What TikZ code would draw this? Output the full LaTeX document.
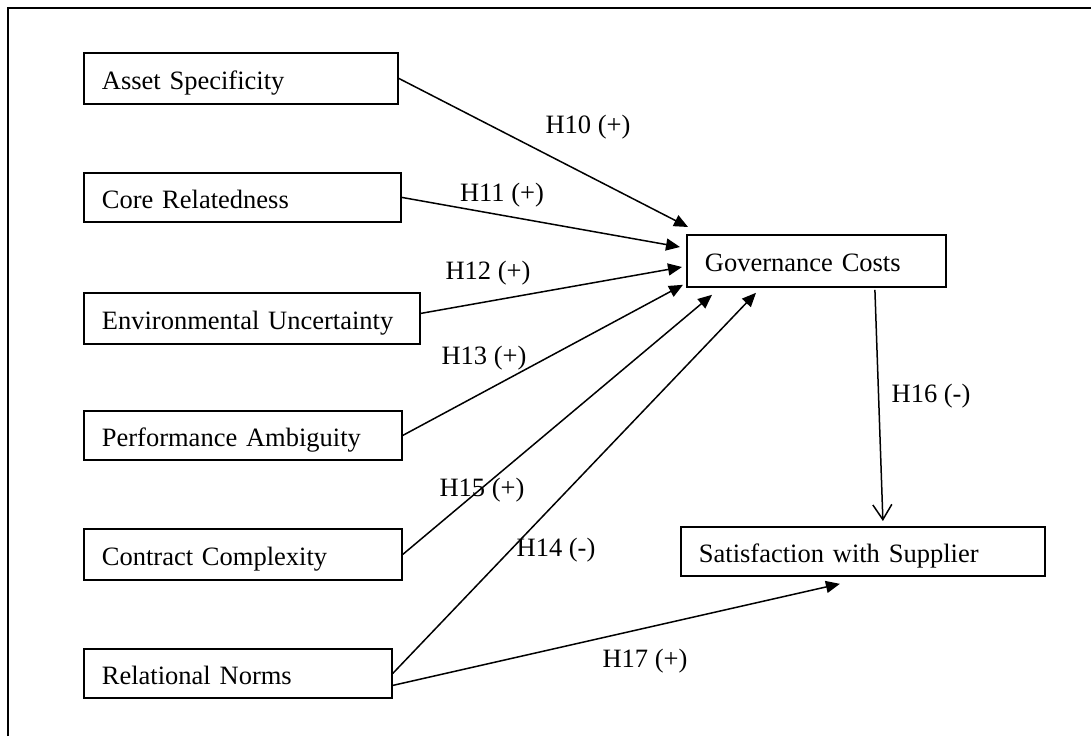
\documentclass[tikz,border=0pt]{standalone}
\usepackage{fontspec}
\setmainfont{Liberation Serif}
\usetikzlibrary{arrows.meta}
\begin{document}
\begin{tikzpicture}[x=1pt,y=-1pt,
  every node/.style={font=\fontsize{26.5}{30}\selectfont},
  varbox/.style={draw, line width=1.8pt, anchor=north west, inner xsep=18pt, inner ysep=0pt, align=left, text height=24pt, text depth=2pt},
  lbl/.style={inner sep=0pt},
  hyp/.style={line width=1.5pt, -{Triangle[length=14pt,width=12pt]}},
  hypopen/.style={line width=1.5pt, -{Straight Barb[length=15pt,width=19pt,line width=1.5pt]}}]
\useasboundingbox (0,0) rectangle (1091,736);
\draw[line width=1.8pt] (8,736) -- (8,8) -- (1091,8);

\node[varbox, minimum width=314pt, minimum height=51pt, text width=278pt] (asset) at (83,52) {Asset Specificity};
\node[varbox, minimum width=317pt, minimum height=49pt, text width=281pt] (core) at (83,172) {Core Relatedness};
\node[varbox, minimum width=336pt, minimum height=51pt, text width=300pt] (env) at (83,292) {Environmental Uncertainty};
\node[varbox, minimum width=318pt, minimum height=49pt, text width=282pt] (perf) at (83,410) {Performance Ambiguity};
\node[varbox, minimum width=318pt, minimum height=51pt, text width=282pt] (contract) at (83,528) {Contract Complexity};
\node[varbox, minimum width=308pt, minimum height=49pt, text width=272pt] (rel) at (83,648) {Relational Norms};
\node[varbox, minimum width=259pt, minimum height=52pt, text width=223pt] (gov) at (686,234) {Governance Costs};
\node[varbox, minimum width=364pt, minimum height=49pt, text width=328pt] (sat) at (680,526) {Satisfaction with Supplier};

\draw[hyp] (asset.east) -- ([shift={(2pt,7pt)}]gov.north west);
\draw[hyp] (core.east) -- ([shift={(-6pt,-13pt)}]gov.north west);
\draw[hyp] ([yshift=5pt]env.east) -- ([shift={(-4pt,-33pt)}]gov.north west);
\draw[hyp] (perf.east) -- ([shift={(-3pt,3pt)}]gov.south west);
\draw[hyp] (contract.east) -- ([shift={(26pt,-7pt)}]gov.south west);
\draw[hyp] (rel.east) -- ([shift={(70pt,-5pt)}]gov.south west);
\draw[hyp] ([yshift=-12pt]rel.east) -- ([shift={(-23pt,-7pt)}]sat.south);
\draw[hypopen] ([shift={(58.5pt,-2pt)}]gov.south) -- ([shift={(20pt,5pt)}]sat.north);

\node[lbl] (l10) at (588,127) {H10 (+)};
\node[lbl] (l11) at (502,195) {H11 (+)};
\node[lbl] (l12) at (488,273) {H12 (+)};
\node[lbl] (l13) at (484,358) {H13 (+)};
\node[lbl] (l15) at (482,490) {H15 (+)};
\node[lbl] (l14) at (556,550) {H14 (-)};
\node[lbl] (l16) at (931,396) {H16 (-)};
\node[lbl] (l17) at (645,661) {H17 (+)};
\end{tikzpicture}
\end{document}
